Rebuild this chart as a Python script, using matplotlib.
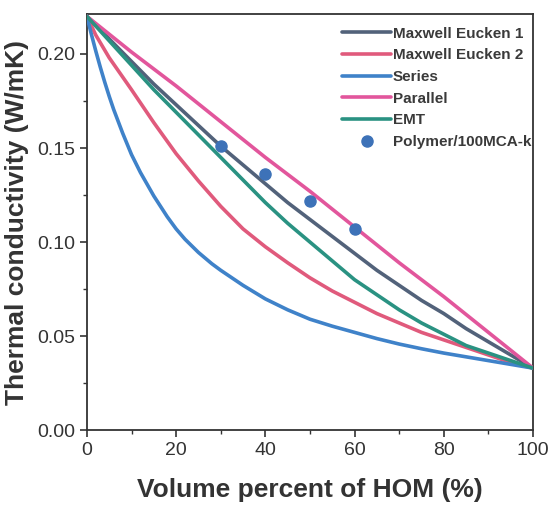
import matplotlib
matplotlib.use("Agg")
import matplotlib.pyplot as plt
from matplotlib.ticker import MultipleLocator

# ---- data ----
phi_par = [0, 10, 20, 30, 40, 50, 60, 70, 80, 90, 100]
k_parallel = [0.220, 0.201, 0.183, 0.164, 0.145, 0.127, 0.108, 0.089, 0.071, 0.052, 0.033]

phi_me1 = [0, 5, 10, 15, 20, 25, 30, 35, 40, 45, 50, 55, 60, 65, 70, 75, 80, 85, 90, 95, 100]
k_me1 = [0.220, 0.208, 0.196, 0.184, 0.173, 0.162, 0.151, 0.141, 0.131, 0.121, 0.112,
         0.103, 0.094, 0.085, 0.077, 0.069, 0.062, 0.054, 0.047, 0.040, 0.033]

phi_me2 = [0, 2, 5, 10, 15, 20, 25, 30, 35, 40, 45, 50, 55, 60, 65, 70, 75, 80, 85, 90, 95, 100]
k_me2 = [0.220, 0.210, 0.198, 0.181, 0.1635, 0.147, 0.1325, 0.119, 0.107, 0.0975, 0.089, 0.081,
         0.074, 0.068, 0.062, 0.057, 0.052, 0.048, 0.044, 0.040, 0.036, 0.033]

phi_ser = [0, 1, 2, 3, 4, 5, 6, 8, 10, 12, 15, 18, 20, 22, 25, 28, 30, 35, 40, 45, 50, 55, 60,
           65, 70, 75, 80, 85, 90, 95, 100]
k_series = [0.220, 0.2105, 0.2015, 0.193, 0.185, 0.1775, 0.1705, 0.158, 0.1465, 0.137, 0.1245,
            0.1135, 0.107, 0.1015, 0.0945, 0.0885, 0.085, 0.077, 0.0698, 0.064, 0.059, 0.0553,
            0.052, 0.0487, 0.0458, 0.0433, 0.041, 0.039, 0.037, 0.035, 0.033]

phi_emt = [0, 5, 10, 15, 20, 25, 30, 35, 40, 45, 50, 55, 60, 65, 70, 75, 80, 85, 90, 95, 100]
k_emt = [0.220, 0.207, 0.194, 0.181, 0.169, 0.157, 0.145, 0.133, 0.121, 0.110, 0.100,
         0.090, 0.080, 0.072, 0.064, 0.057, 0.051, 0.045, 0.041, 0.037, 0.033]

phi_exp = [30, 40, 50, 60]
k_exp = [0.151, 0.136, 0.122, 0.107]

xticks = [0, 20, 40, 60, 80, 100]
yticks = [0.00, 0.05, 0.10, 0.15, 0.20]

plt.rcParams['font.family'] = ['Liberation Sans', 'DejaVu Sans']

fig = plt.figure(figsize=(5.57, 5.14), dpi=100)
ax = fig.add_axes([0.156, 0.163, 0.801, 0.810])

lw = 2.6
kw = dict(lw=lw, zorder=3, solid_joinstyle='round', solid_capstyle='round')
ax.plot(phi_me1, k_me1, color='#52627a', label='Maxwell Eucken 1', **kw)
ax.plot(phi_me2, k_me2, color='#e05a7c', label='Maxwell Eucken 2', **kw)
ax.plot(phi_ser, k_series, color='#3f82c9', label='Series', **kw)
ax.plot(phi_par, k_parallel, color='#e2569c', label='Parallel', **kw)
ax.plot(phi_emt, k_emt, color='#2a9282', label='EMT', **kw)
ax.plot(phi_exp, k_exp, 'o', color='#3d72b8', ms=8, label='Polymer/100MCA-k', zorder=4)

ax.set_xlim(0, 100)
ax.set_ylim(0, 0.2213)
ax.set_xticks(xticks)
ax.set_yticks(yticks)
ax.set_xticklabels([str(v) for v in xticks])
ax.set_yticklabels([f"{v:.2f}" for v in yticks])
ax.xaxis.set_minor_locator(MultipleLocator(10))
ax.yaxis.set_minor_locator(MultipleLocator(0.025))
ax.tick_params(axis='both', which='major', direction='out', length=5, width=1.2,
               labelsize=14, colors='#333333')
ax.tick_params(axis='both', which='minor', direction='out', length=3, width=1.0, colors='#333333')
for s in ax.spines.values():
    s.set_linewidth(1.3)
    s.set_color('#333333')

ax.set_xlabel('Volume percent of HOM (%)', fontsize=19, fontweight='bold',
              color='#333333', labelpad=14)
ax.set_ylabel('Thermal conductivity (W/mK)', fontsize=19, fontweight='bold',
              color='#333333', labelpad=6)

leg = ax.legend(loc='upper right', bbox_to_anchor=(1.02, 0.995), frameon=False,
                handlelength=3.2, handletextpad=0.1, labelspacing=0.5,
                prop={'weight': 'bold', 'size': 11},
                borderaxespad=0.3)
for t in leg.get_texts():
    t.set_color('#3a3a3a')

fig.savefig('out.png', dpi=100, facecolor='white')
